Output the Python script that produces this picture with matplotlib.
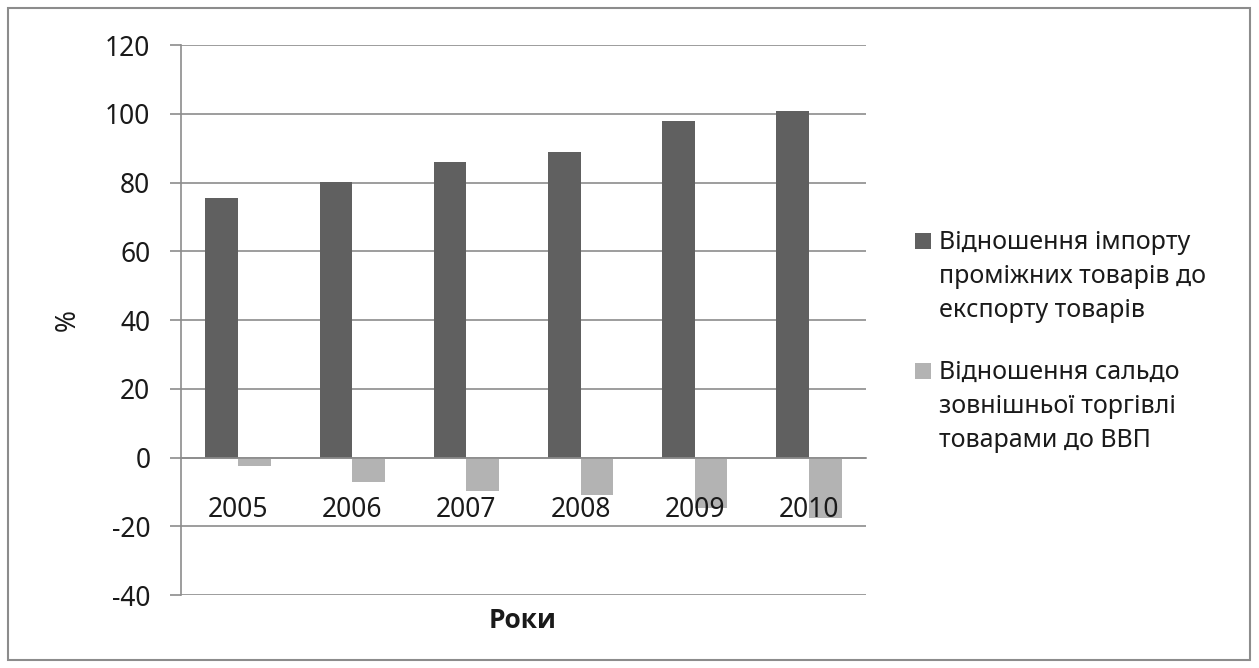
import matplotlib
matplotlib.use("Agg")
import matplotlib.pyplot as plt
import numpy as np
from matplotlib.patches import Rectangle

years = ["2005", "2006", "2007", "2008", "2009", "2010"]
import_ratio = [75.6, 80.2, 85.9, 88.8, 97.9, 100.9]
balance_ratio = [-2.4, -7.2, -9.8, -11.0, -14.6, -17.5]
series_names = [["Відношення імпорту", "проміжних товарів до", "експорту товарів"],
                ["Відношення сальдо", "зовнішньої торгівлі", "товарами до ВВП"]]
series_colors = ["#606060", "#b3b3b3"]
yticks = [-40, -20, 0, 20, 40, 60, 80, 100, 120]

plt.rcParams['font.family'] = ['Noto Sans', 'DejaVu Sans']
FS = 19
TXT = "#1a1a1a"
W, H = 1259, 668

fig = plt.figure(figsize=(W/100, H/100), dpi=100)
L, R = 181, 866
ax = fig.add_axes([L/W, 1-595/H, (R-L)/W, 550/H])

x = np.arange(len(years))
w = 1/3.5
ax.bar(x - w/2, import_ratio, width=w, color=series_colors[0], zorder=2)
ax.bar(x + w/2, balance_ratio, width=w, color=series_colors[1], zorder=2)

for s in ["top", "right"]:
    ax.spines[s].set_visible(False)
ax.spines["bottom"].set_position(("data", 0))
ax.spines["bottom"].set_color("#8c8c8c")
ax.spines["bottom"].set_linewidth(1.2)
ax.spines["left"].set_color("#8c8c8c")
ax.spines["left"].set_linewidth(1.2)

ax.set_xlim(-0.5, len(years) - 0.5)
ax.set_ylim(-40, 120)
ax.set_yticks(yticks)
ax.set_yticklabels([str(v) for v in yticks], fontsize=FS, color=TXT)
ax.yaxis.grid(True, color="#8c8c8c", linewidth=1.2, zorder=0)
ax.set_axisbelow(True)

ax.set_xticks(x)
ax.set_xticklabels(years, fontsize=FS, color=TXT)
ax.xaxis.set_zorder(5)
ax.tick_params(axis='x', length=0, pad=28)
ax.tick_params(axis='y', length=8, color="#8c8c8c", width=1.2, pad=14)

ax.set_ylabel("%", fontsize=FS, color=TXT)
ax.yaxis.set_label_coords(-0.145, 0.5)
fig.text(523/W, 1-620/H, "Роки", fontsize=FS, fontweight="bold", ha="center", va="center",
         family=["Open Sans", "DejaVu Sans"], color=TXT)

# legend drawn by hand: square aligned with the first line of each entry
LFS = 18
entry_top = [249, 379]   # baseline of first line (px from top)
pitch = 34
for names, col, base in zip(series_names, series_colors, entry_top):
    fig.patches.append(Rectangle((915/W, 1-base/H), 16/W, 16/H, transform=fig.transFigure,
                                 facecolor=col, edgecolor="none"))
    for i, line in enumerate(names):
        fig.text(939/W, 1-(base + i*pitch)/H, line, fontsize=LFS, color=TXT,
                 ha="left", va="baseline")

fig.patches.append(Rectangle((8/W, 8/H), 1242/W, 652/H, transform=fig.transFigure,
                             fill=False, edgecolor="#8c8c8c", linewidth=1.5))

fig.savefig("out.png", dpi=100)
